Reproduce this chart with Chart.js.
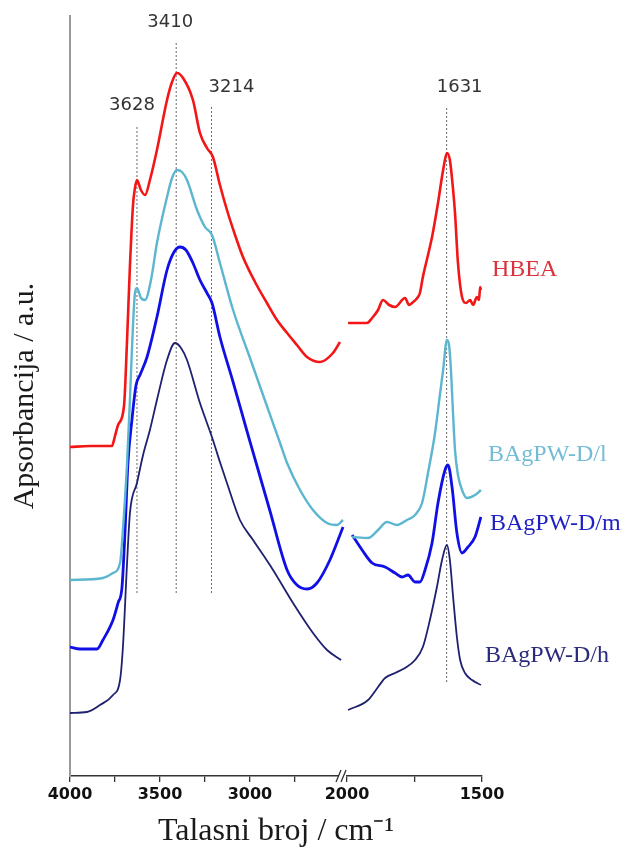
<!DOCTYPE html>
<html>
<head>
<meta charset="utf-8">
<script src="https://cdn.jsdelivr.net/npm/chart.js@4.4.1/dist/chart.umd.min.js"></script>
<style>
  html, body { margin: 0; padding: 0; background: #fff; }
</style>
</head>
<body>
<canvas id="ftir" width="628" height="848"></canvas>
<script>
// FTIR spektri - vrijednosti ocitane sa slike (apsorbancija u proizvoljnim jedinicama, s pomakom)
const hbeaWn = [4000,3889,3767,3750,3733,3700,3683,3667,3650,3639,3628,3606,3583,3556,3517,3461,3433,3406,3372,3317,3278,3239,3206,3167,3128,3083,3039,2972,2906,2850,2794,2739,2683,2611,2539,2500,
  1996,1926,1907,1885,1867,1844,1822,1785,1770,1759,1737,1730,1719,1700,1685,1663,1644,1630,1619,1607,1600,1589,1574,1559,1544,1533,1519,1511,1507,1504];
const hbeaAbs = [3.29,3.30,3.30,3.40,3.51,3.70,4.36,5.10,5.71,5.88,5.96,5.86,5.81,5.96,6.26,6.76,6.94,7.03,6.98,6.76,6.43,6.28,6.19,5.91,5.66,5.41,5.19,4.94,4.73,4.56,4.43,4.31,4.19,4.14,4.23,4.34,
  4.53,4.53,4.58,4.66,4.76,4.71,4.69,4.78,4.71,4.73,4.79,4.83,4.99,5.21,5.39,5.73,6.06,6.23,6.16,5.86,5.63,5.13,4.79,4.73,4.76,4.71,4.79,4.76,4.89,4.86];

const lowWn = [4000,3817,3761,3722,3706,3683,3667,3656,3639,3628,3606,3583,3550,3517,3461,3433,3406,3378,3350,3294,3250,3211,3167,3094,3000,2906,2833,2794,2722,2650,2572,2517,2483,
  1981,1922,1885,1852,1815,1778,1748,1722,1700,1674,1656,1644,1630,1622,1615,1607,1600,1589,1574,1556,1526,1504];
const lowAbs = [1.96,1.98,2.03,2.13,2.46,3.13,3.76,4.26,4.83,4.88,4.78,4.76,4.96,5.33,5.79,5.98,6.06,6.04,5.96,5.66,5.49,5.41,5.13,4.66,4.18,3.70,3.33,3.13,2.86,2.66,2.53,2.51,2.56,
  2.39,2.38,2.46,2.54,2.51,2.56,2.61,2.73,3.03,3.43,3.81,4.06,4.36,4.31,4.06,3.61,3.26,3.01,2.86,2.78,2.81,2.86];

const midWn = [4000,3944,3850,3817,3761,3733,3711,3694,3678,3656,3633,3611,3572,3517,3461,3422,3389,3356,3317,3278,3239,3211,3167,3094,3017,2961,2889,2794,2739,2683,2628,2556,2483,
  1981,1944,1907,1859,1822,1796,1774,1748,1730,1711,1685,1663,1637,1626,1611,1593,1574,1552,1526,1504];
const midAbs = [1.29,1.27,1.27,1.36,1.56,1.73,1.89,2.46,3.13,3.56,3.91,4.01,4.19,4.59,5.06,5.24,5.29,5.26,5.13,4.96,4.83,4.73,4.39,3.94,3.45,3.10,2.65,2.06,1.91,1.87,1.93,2.16,2.49,
  2.41,2.26,2.13,2.09,2.03,1.99,2.01,1.94,1.94,2.06,2.33,2.73,3.06,3.11,2.89,2.43,2.23,2.29,2.39,2.59];

const highWn = [4000,3906,3833,3761,3722,3706,3683,3667,3628,3594,3556,3517,3461,3417,3383,3350,3278,3239,3206,3167,3128,3056,2983,2872,2761,2650,2572,2494,
  1996,1922,1885,1859,1822,1785,1748,1719,1693,1667,1648,1630,1619,1607,1593,1581,1563,1537,1504];
const highAbs = [0.63,0.64,0.71,0.81,0.96,1.29,2.13,2.63,2.93,3.21,3.46,3.76,4.16,4.33,4.28,4.16,3.73,3.53,3.36,3.14,2.93,2.56,2.36,2.06,1.73,1.43,1.26,1.16,
  0.66,0.76,0.89,0.98,1.03,1.08,1.16,1.29,1.56,1.89,2.16,2.31,2.16,1.79,1.39,1.16,1.03,0.96,0.91];

const seriesNames = ['HBEA', 'BAgPW-D/l', 'BAgPW-D/m', 'BAgPW-D/h'];

// isprekidane linije na karakteristicnim trakama
const markerWn = [3628, 3410, 3214, 1631];
const markerTop = [6.49, 7.33, 6.69, 6.69];
const markerBottom = [1.83, 1.83, 1.83, 0.94];

const tickWn = [4000, 3750, 3500, 3250, 3000, 2750, 2000, 1750, 1500];

// prekid osi: 4000-2500 lijevo, 2000-1500 desno (rastegnuto 1.5x)
function toAxis(w) { return w > 2250 ? 4000 - w : 1539 + (2000 - w) * 1.5; }
function fromAxis(u) { return u < 1530 ? 4000 - u : 2000 - (u - 1539) / 1.5; }

function buildPoints(wn, abs) {
    const pts = [];
    for (let i = 0; i < wn.length; i++) {
        if (i > 0 && wn[i - 1] > 2250 && wn[i] <= 2250) {
            pts.push({ x: (toAxis(wn[i - 1]) + toAxis(wn[i])) / 2, y: null });
        }
        pts.push({ x: toAxis(wn[i]), y: abs[i] });
    }
    return pts;
}

const lineColors = ['#f31616', '#5cb6cf', '#1010e6', '#202070'];
const labelColors = ['#d8323c', '#74bcd6', '#1f1fc4', '#2b2b7d'];
const lineWidths = [2.6, 2.4, 2.8, 1.8];
const spectra = [[hbeaWn, hbeaAbs], [lowWn, lowAbs], [midWn, midAbs], [highWn, highAbs]];

const datasets = spectra.map((s, i) => ({
    label: seriesNames[i],
    data: buildPoints(s[0], s[1]),
    borderColor: lineColors[i],
    borderWidth: lineWidths[i],
    pointRadius: 0,
    cubicInterpolationMode: 'monotone',
    spanGaps: false
}));

markerWn.forEach((w, i) => {
    datasets.push({
        label: 'm' + w,
        data: [{ x: toAxis(w), y: markerBottom[i] }, { x: toAxis(w), y: markerTop[i] }],
        borderColor: '#6a6a6a',
        borderWidth: 1,
        borderDash: [2, 2],
        pointRadius: 0,
        tension: 0
    });
});

const annotations = {
    id: 'annotations',
    afterDraw(chart) {
        const { ctx, chartArea, scales: { x, y } } = chart;
        ctx.save();

        // brojevi traka iznad isprekidanih linija
        const peakOffsets = [[-5, -22], [-6, -21], [20, -20], [13, -20]];
        ctx.font = '18px "DejaVu Sans"';
        ctx.fillStyle = '#333';
        ctx.textAlign = 'center';
        ctx.textBaseline = 'middle';
        markerWn.forEach((w, i) => {
            ctx.fillText(String(w), x.getPixelForValue(toAxis(w)) + peakOffsets[i][0],
                y.getPixelForValue(markerTop[i]) + peakOffsets[i][1]);
        });

        // nazivi uzoraka desno
        const labelY = [5.06, 3.21, 2.52, 1.20];
        const labelX = [10, 6, 8, 3];
        ctx.font = '24px "Liberation Serif"';
        ctx.textAlign = 'left';
        seriesNames.forEach((n, i) => {
            ctx.fillStyle = labelColors[i];
            ctx.fillText(n, chartArea.right + labelX[i], y.getPixelForValue(labelY[i]));
        });

        // oznaka prekida osi //
        const bx = x.getPixelForValue(toAxis(2000)) - 5;
        const by = chartArea.bottom;
        ctx.fillStyle = '#fff';
        ctx.fillRect(bx - 3, by - 3, 7, 6);
        ctx.strokeStyle = '#333';
        ctx.lineWidth = 1.3;
        ctx.beginPath();
        ctx.moveTo(bx - 6, by + 6); ctx.lineTo(bx - 1, by - 6);
        ctx.moveTo(bx - 1, by + 6); ctx.lineTo(bx + 4, by - 6);
        ctx.stroke();
        ctx.restore();
    }
};

new Chart(document.getElementById('ftir'), {
    type: 'line',
    data: { datasets },
    options: {
        responsive: false,
        animation: false,
        events: [],
        layout: { padding: { top: 16, right: 146, left: 0, bottom: 0 } },
        plugins: { legend: { display: false }, tooltip: { enabled: false } },
        scales: {
            x: {
                type: 'linear',
                min: 0,
                max: 2289,
                afterBuildTicks: s => { s.ticks = tickWn.map(w => ({ value: toAxis(w) })); },
                afterFit: s => { s.height = 72; },
                ticks: {
                    autoSkip: false,
                    maxRotation: 0,
                    padding: 3,
                    color: '#111',
                    font: { family: 'DejaVu Sans', weight: 'bold', size: 16 },
                    callback: v => {
                        const w = Math.round(fromAxis(v));
                        return w % 500 === 0 ? String(w) : '';
                    }
                },
                grid: { drawOnChartArea: false, tickLength: 6, color: '#333', lineWidth: 1.3 },
                border: { color: '#333', width: 1.5 },
                title: {
                    display: true,
                    text: 'Talasni broj / cm⁻¹',
                    color: '#1a1a1a',
                    font: { family: 'Liberation Serif', size: 32, lineHeight: 1 },
                    padding: { top: 0, bottom: 0 }
                }
            },
            y: {
                min: 0,
                max: 7.6,
                ticks: { display: false },
                grid: { display: false },
                border: { color: '#9a9a9a', width: 2 },
                afterFit: s => { s.width = 70; },
                title: {
                    display: true,
                    text: 'Apsorbancija / a.u.',
                    color: '#1a1a1a',
                    font: { family: 'Liberation Serif', size: 30, lineHeight: 1 },
                    padding: { top: 10, bottom: 0 }
                }
            }
        }
    },
    plugins: [annotations]
});
</script>
</body>
</html>
